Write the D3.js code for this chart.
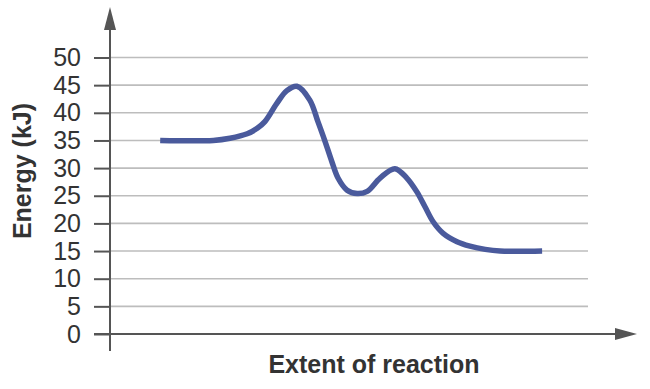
<!DOCTYPE html>
<html>
<head>
<meta charset="utf-8">
<script src="https://cdn.jsdelivr.net/npm/d3@7"></script>
<style>
  body { margin: 0; background: #fff; }
  svg { display: block; font-family: "Liberation Sans", Arial, sans-serif; }
</style>
</head>
<body>
<div id="chart"></div>
<script>
// energy profile
var extent = [10.5, 21.6, 25.1, 28.7, 30.8, 32.4, 34.9, 37.0, 39.1, 41.8, 43.5, 45.0, 46.4, 47.7,
              49.6, 51.7, 53.8, 56.5, 59.6, 62.1, 64.2, 65.9, 67.6, 69.7, 72.6, 75.3, 78.5, 81.6, 90.4];
var energy = [35, 35, 35.4, 36.2, 37.2, 38.4, 41.7, 44, 44.8, 42.3, 38.4, 34.8, 31.2, 28.2,
              26, 25.4, 25.8, 28.2, 29.9, 28.2, 25.7, 23, 20.3, 18.2, 16.7, 15.9, 15.3, 15, 15];
var yTicks = [0, 5, 10, 15, 20, 25, 30, 35, 40, 45, 50];

var WIDTH = 650, HEIGHT = 389;
var X0 = 110, X1 = 588;   // plot area
var AXIS_COLOR = "#555";
var FONT = "'Liberation Sans', Arial, sans-serif";

var svg = d3.select("#chart").append("svg")
    .attr("width", WIDTH)
    .attr("height", HEIGHT);

var x = d3.scaleLinear().domain([0, 100]).range([X0, X1]);
var y = d3.scaleLinear().domain([0, 50]).range([334, 57.5]);

// grid lines
svg.append("g").selectAll("line")
  .data(yTicks.filter(function(d){ return d > 0; }))
  .join("line")
    .attr("x1", X0).attr("x2", X1)
    .attr("y1", function(d){ return y(d); })
    .attr("y2", function(d){ return y(d); })
    .attr("stroke", "#bdbdbd")
    .attr("stroke-width", 1.6);

// ticks + labels
var yAxis = svg.append("g")
    .attr("transform", "translate(" + X0 + ",0)")
    .call(d3.axisLeft(y).tickValues(yTicks).tickSize(16).tickPadding(13));
yAxis.select(".domain").remove();
yAxis.selectAll(".tick line").attr("stroke", AXIS_COLOR).attr("stroke-width", 2);
yAxis.selectAll(".tick text")
    .attr("fill", "#333")
    .style("font-size", "25px")
    .style("font-family", FONT);

// axes with arrows
svg.append("line")
    .attr("x1", X0).attr("x2", X0)
    .attr("y1", 351).attr("y2", 28)
    .attr("stroke", AXIS_COLOR).attr("stroke-width", 2);
svg.append("path")
    .attr("d", "M" + (X0 - 6) + ",30 L" + X0 + ",7 L" + (X0 + 6) + ",30 Z")
    .attr("fill", AXIS_COLOR);

svg.append("line")
    .attr("x1", 94).attr("x2", 618)
    .attr("y1", y(0)).attr("y2", y(0))
    .attr("stroke", AXIS_COLOR).attr("stroke-width", 2.2);
svg.append("path")
    .attr("d", "M615," + (y(0) - 6) + " L637," + y(0) + " L615," + (y(0) + 6) + " Z")
    .attr("fill", AXIS_COLOR);

// curve
var line = d3.line()
    .x(function(d, i){ return x(extent[i]); })
    .y(function(d){ return y(d); })
    .curve(d3.curveCatmullRom.alpha(0.5));

svg.append("path")
    .datum(energy)
    .attr("d", line)
    .attr("fill", "none")
    .attr("stroke", "#4a5a9c")
    .attr("stroke-width", 5.5);

// titles
svg.append("text")
    .attr("x", 374).attr("y", 373)
    .attr("text-anchor", "middle")
    .attr("fill", "#333")
    .style("font-size", "25px")
    .style("font-weight", "bold")
    .text("Extent of reaction");

svg.append("text")
    .attr("transform", "translate(31,171) rotate(-90)")
    .attr("text-anchor", "middle")
    .attr("fill", "#333")
    .style("font-size", "25px")
    .style("font-weight", "bold")
    .text("Energy (kJ)");
</script>
</body>
</html>
